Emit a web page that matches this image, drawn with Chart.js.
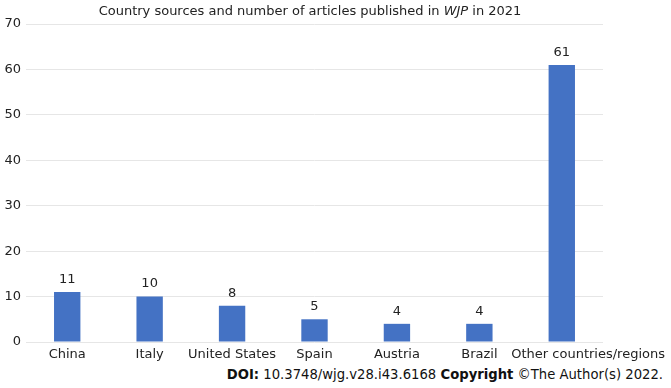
<!DOCTYPE html>
<html>
<head>
<meta charset="utf-8">
<script src="https://cdn.jsdelivr.net/npm/chart.js@4"></script>
<style>
  html, body { margin: 0; padding: 0; background: #fff; }
  #wrap { position: relative; width: 671px; height: 388px; font-family: "DejaVu Sans", sans-serif; color: #222; }
  #title { position: absolute; left: 0; width: 620px; top: 3px; text-align: center; font-size: 13px; }
  #footer { position: absolute; right: 8px; top: 367px; font-size: 13.2px; color: #111; }
  #chartBox { position: absolute; left: 0; top: 0; width: 671px; height: 367px; }
</style>
</head>
<body>
<div id="wrap">
  <div id="chartBox"><canvas id="chart"></canvas></div>
  <div id="title">Country sources and number of articles published in <i>WJP</i> in 2021</div>
  <div id="footer"><b>DOI:</b> 10.3748/wjg.v28.i43.6168 <b>Copyright</b> ©The Author(s) 2022.</div>
</div>
<script>
// data
const categories = ['China', 'Italy', 'United States', 'Spain', 'Austria', 'Brazil', 'Other countries/regions'];
const articleCounts = [11, 10, 8, 5, 4, 4, 61];
const yTicks = [0, 10, 20, 30, 40, 50, 60, 70];

const FONT = '13px "DejaVu Sans", sans-serif';

// value labels above the bars
const valueLabels = {
    id: 'valueLabels',
    afterDatasetsDraw(chart) {
        const { ctx } = chart;
        const meta = chart.getDatasetMeta(0);
        ctx.save();
        ctx.font = FONT;
        ctx.fillStyle = '#222';
        ctx.textAlign = 'center';
        ctx.textBaseline = 'bottom';
        meta.data.forEach((bar, i) => {
            ctx.fillText(articleCounts[i], bar.x, bar.y - 6);
        });
        ctx.restore();
    }
};

// category labels, pushed right when they would run into the previous one (like Excel does)
const categoryLabels = {
    id: 'categoryLabels',
    afterDraw(chart) {
        const { ctx } = chart;
        const xs = chart.scales.x;
        const y = xs.top + 13;
        ctx.save();
        ctx.font = FONT;
        ctx.fillStyle = '#222';
        ctx.textAlign = 'left';
        ctx.textBaseline = 'middle';
        let prevRight = -Infinity;
        categories.forEach((c, i) => {
            const w = ctx.measureText(c).width;
            let left = xs.getPixelForValue(i) - w / 2;
            if (left < prevRight + 15) left = prevRight + 15;
            left = Math.min(left, chart.width - 6 - w);
            ctx.fillText(c, left, y);
            prevRight = left + w;
        });
        ctx.restore();
    }
};

new Chart(document.getElementById('chart'), {
    type: 'bar',
    data: {
        labels: categories,
        datasets: [{
            data: articleCounts,
            backgroundColor: '#4472C4',
            barPercentage: 0.32,
            categoryPercentage: 1
        }]
    },
    options: {
        responsive: true,
        maintainAspectRatio: false,
        animation: false,
        layout: { padding: { top: 24, right: 68, left: 1, bottom: 0 } },
        plugins: { legend: { display: false }, tooltip: { enabled: false } },
        scales: {
            x: {
                grid: { display: false },
                border: { display: false },
                afterFit: (axis) => { axis.height = 25; },
                ticks: { display: false }
            },
            y: {
                min: 0,
                max: 70,
                afterBuildTicks: (axis) => { axis.ticks = yTicks.map(v => ({ value: v })); },
                afterFit: (axis) => { axis.width = 25; },
                grid: { color: '#e6e6e6', drawTicks: false },
                border: { display: false },
                ticks: { color: '#222', font: { family: 'DejaVu Sans', size: 13 }, padding: 5 }
            }
        }
    },
    plugins: [valueLabels, categoryLabels]
});
</script>
</body>
</html>
